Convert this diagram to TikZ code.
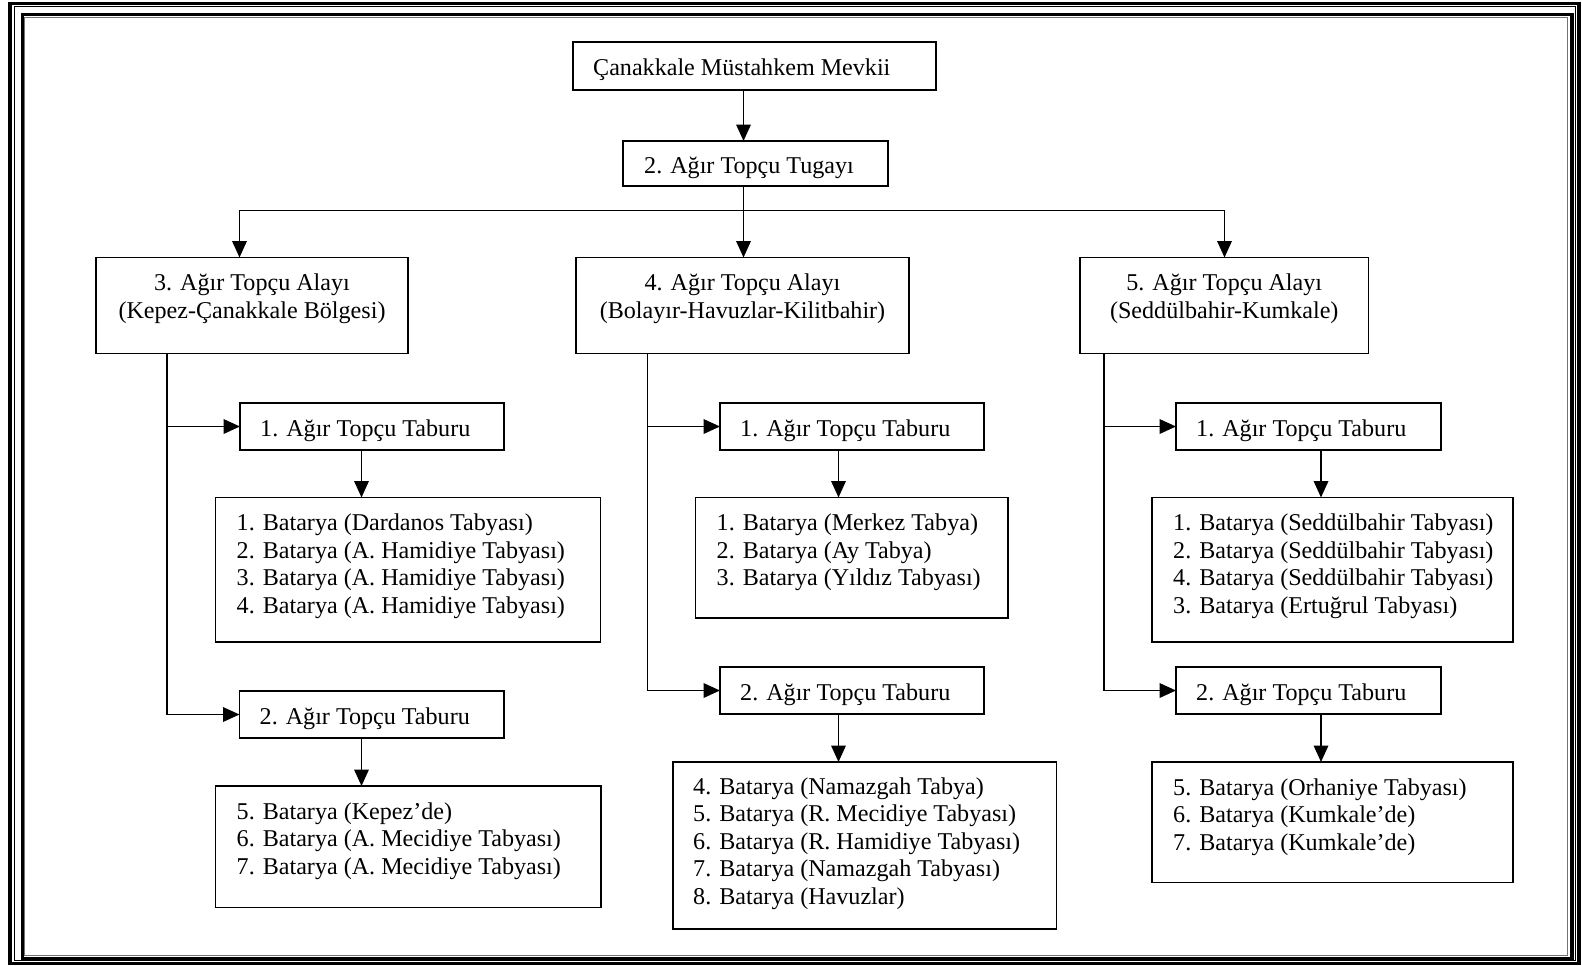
\documentclass[tikz,border=0pt]{standalone}
\usepackage{fontspec}
\setmainfont{Liberation Serif}
\usetikzlibrary{arrows.meta,calc}
\begin{document}
\begin{tikzpicture}[x=1pt,y=-1pt,
  bx/.style={draw, line width=1.9pt, anchor=north west, inner sep=0pt, outer sep=0pt},
  lt/.style={anchor=north west, inner sep=0pt, align=left, font=\fontsize{24.1}{27.5}\selectfont},
  ct/.style={anchor=north, inner sep=0pt, align=center, font=\fontsize{24.1}{27.5}\selectfont},
  arr/.style={line width=1.9pt, -{Triangle[length=16.5pt,width=14.5pt]}},
  ln/.style={line width=1.9pt}]
\useasboundingbox (0,0) rectangle (1582,966);
\fill[white] (0,0) rectangle (1582,966);
% frame
\draw[line width=3.8pt] (10.3,3.5) rectangle (1579,963.5);
\draw[line width=1pt] (14.5,6.5) rectangle (1575.5,960.8);
\draw[line width=3.3pt] (22.3,14.5) rectangle (1572,958.5);
\draw[line width=1pt, black!55] (24.8,17.5) rectangle (1567.5,955);
% column coordinates
\coordinate (c0) at (743.5,0);
\coordinate (bus) at (0,210.5);
\coordinate (xa3) at (239.5,0);
\coordinate (xa5) at (1224.5,0);
\coordinate (xl) at (167,0);
\coordinate (xm) at (647.5,0);
\coordinate (xr) at (1104,0);
\coordinate (xcl) at (361.5,0);
\coordinate (xcm) at (838.5,0);
\coordinate (xcr) at (1321,0);
% boxes
\node[bx, minimum width=363pt, minimum height=48pt] (top) at (573,42) {};
\node[bx, minimum width=265pt, minimum height=45pt] (tug) at (623,141) {};
\node[bx, minimum width=312pt, minimum height=96pt] (a3) at (96,257.5) {};
\node[bx, minimum width=333pt, minimum height=96pt] (a4) at (576,257.5) {};
\node[bx, minimum width=288.5pt, minimum height=96pt] (a5) at (1080,257.5) {};
\node[bx, minimum width=264pt, minimum height=47pt] (tl1) at (240,403) {};
\node[bx, minimum width=385pt, minimum height=144.5pt] (bl1) at (215.5,497.5) {};
\node[bx, minimum width=264.5pt, minimum height=47pt] (tl2) at (239.5,691) {};
\node[bx, minimum width=385.5pt, minimum height=121.5pt] (bl2) at (215.5,786) {};
\node[bx, minimum width=264pt, minimum height=47pt] (tm1) at (720,403) {};
\node[bx, minimum width=312.5pt, minimum height=120.5pt] (bm1) at (695.5,497.5) {};
\node[bx, minimum width=264pt, minimum height=47pt] (tm2) at (720,667) {};
\node[bx, minimum width=383.5pt, minimum height=167pt] (bm2) at (673,762) {};
\node[bx, minimum width=265pt, minimum height=47pt] (tr1) at (1176,403) {};
\node[bx, minimum width=361pt, minimum height=144.5pt] (br1) at (1152,497.5) {};
\node[bx, minimum width=265pt, minimum height=47pt] (tr2) at (1176,667) {};
\node[bx, minimum width=361pt, minimum height=120.5pt] (br2) at (1152,762) {};
% texts
\node[lt] (topT) at ([shift={(20,14)}]top.north west) {\strut Çanakkale Müstahkem Mevkii};
\node[lt] (tugT) at ([shift={(21,13)}]tug.north west) {\strut 2. Ağır Topçu Tugayı};
\node[ct] (a3T) at ([shift={(0,14)}]a3.north) {\strut 3. Ağır Topçu Alayı\\\strut (Kepez-Çanakkale Bölgesi)};
\node[ct] (a4T) at ([shift={(0,14)}]a4.north) {\strut 4. Ağır Topçu Alayı\\\strut (Bolayır-Havuzlar-Kilitbahir)};
\node[ct] (a5T) at ([shift={(0,14)}]a5.north) {\strut 5. Ağır Topçu Alayı\\\strut (Seddülbahir-Kumkale)};
\node[lt] (tl1T) at ([shift={(20,14)}]tl1.north west) {\strut 1. Ağır Topçu Taburu};
\node[lt] (tl2T) at ([shift={(20,14)}]tl2.north west) {\strut 2. Ağır Topçu Taburu};
\node[lt] (tm1T) at ([shift={(20,14)}]tm1.north west) {\strut 1. Ağır Topçu Taburu};
\node[lt] (tm2T) at ([shift={(20,14)}]tm2.north west) {\strut 2. Ağır Topçu Taburu};
\node[lt] (tr1T) at ([shift={(20,14)}]tr1.north west) {\strut 1. Ağır Topçu Taburu};
\node[lt] (tr2T) at ([shift={(20,14)}]tr2.north west) {\strut 2. Ağır Topçu Taburu};
\node[lt] (bl1T) at ([shift={(21,14)}]bl1.north west) {\strut 1. Batarya (Dardanos Tabyası)\\\strut 2. Batarya (A. Hamidiye Tabyası)\\\strut 3. Batarya (A. Hamidiye Tabyası)\\\strut 4. Batarya (A. Hamidiye Tabyası)};
\node[lt] (bl2T) at ([shift={(21,14)}]bl2.north west) {\strut 5. Batarya (Kepez’de)\\\strut 6. Batarya (A. Mecidiye Tabyası)\\\strut 7. Batarya (A. Mecidiye Tabyası)};
\node[lt] (bm1T) at ([shift={(21,14)}]bm1.north west) {\strut 1. Batarya (Merkez Tabya)\\\strut 2. Batarya (Ay Tabya)\\\strut 3. Batarya (Yıldız Tabyası)};
\node[lt] (bm2T) at ([shift={(20,13)}]bm2.north west) {\strut 4. Batarya (Namazgah Tabya)\\\strut 5. Batarya (R. Mecidiye Tabyası)\\\strut 6. Batarya (R. Hamidiye Tabyası)\\\strut 7. Batarya (Namazgah Tabyası)\\\strut 8. Batarya (Havuzlar)};
\node[lt] (br1T) at ([shift={(21,14)}]br1.north west) {\strut 1. Batarya (Seddülbahir Tabyası)\\\strut 2. Batarya (Seddülbahir Tabyası)\\\strut 4. Batarya (Seddülbahir Tabyası)\\\strut 3. Batarya (Ertuğrul Tabyası)};
\node[lt] (br2T) at ([shift={(21,14)}]br2.north west) {\strut 5. Batarya (Orhaniye Tabyası)\\\strut 6. Batarya (Kumkale’de)\\\strut 7. Batarya (Kumkale’de)};
% connectors
\draw[arr] (top.south -| c0) -- (tug.north -| c0);
\draw[arr] (tug.south -| c0) -- (a4.north -| c0);
\draw[arr] (c0 |- bus) -| (a3.north -| xa3);
\draw[arr] (c0 |- bus) -| (a5.north -| xa5);
\draw[arr] (a3.south -| xl) |- (tl1.west);
\draw[arr] (a3.south -| xl) |- (tl2.west);
\draw[arr] (a4.south -| xm) |- (tm1.west);
\draw[arr] (a4.south -| xm) |- (tm2.west);
\draw[arr] (a5.south -| xr) |- (tr1.west);
\draw[arr] (a5.south -| xr) |- (tr2.west);
\draw[arr] (tl1.south -| xcl) -- (bl1.north -| xcl);
\draw[arr] (tl2.south -| xcl) -- (bl2.north -| xcl);
\draw[arr] (tm1.south -| xcm) -- (bm1.north -| xcm);
\draw[arr] (tm2.south -| xcm) -- (bm2.north -| xcm);
\draw[arr] (tr1.south -| xcr) -- (br1.north -| xcr);
\draw[arr] (tr2.south -| xcr) -- (br2.north -| xcr);
\end{tikzpicture}
\end{document}
